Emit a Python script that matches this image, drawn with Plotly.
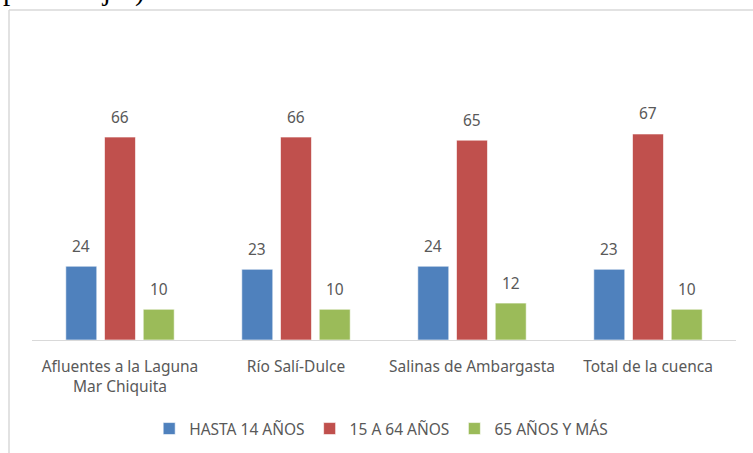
import plotly.graph_objects as go

categories = ["Afluentes a la Laguna<br>Mar Chiquita", "Río Salí-Dulce", "Salinas de Ambargasta", "Total de la cuenca"]
series_names = ["HASTA 14 AÑOS", "15 A 64 AÑOS", "65 AÑOS Y MÁS"]
hasta_14 = [24, 23, 24, 23]
de_15_a_64 = [66, 66, 65, 67]
mas_65 = [10, 10, 12, 10]
colors = ["#4F81BD", "#C0504D", "#9BBB59"]

W, H = 753, 453
L, R, T, B = 32, 17, 94, 113
pw, ph = W - L - R, H - T - B

def px_x(p):
    return (p - L) / pw

def px_y(p):
    return (H - B - p) / ph

FONT = "Noto Sans"
GRAY = "#595959"
FS = 15.5

fig = go.Figure()
all_series = [hasta_14, de_15_a_64, mas_65]
for name, vals, col in zip(series_names, all_series, colors):
    fig.add_trace(go.Bar(
        x=categories, y=vals, name=name,
        marker=dict(color=col, line=dict(color="rgba(255,255,255,0.6)", width=1)),
        hoverinfo="skip",
    ))

# data labels as annotations above each bar
slot = 38.7
for i, vals in enumerate(all_series):
    for c, v in zip(categories, vals):
        fig.add_annotation(
            x=c, y=v, text=str(v), showarrow=False,
            xshift=(i - 1) * slot, yshift=20.5, yanchor="middle",
            font=dict(family=FONT, size=FS, color=GRAY),
        )

# clipped caption text at top (cut off in the original too)
fig.add_annotation(
    xref="paper", yref="paper", x=px_x(2), y=px_y(8),
    xanchor="left", yanchor="bottom", text="porcentajes)", showarrow=False,
    borderpad=0, font=dict(family="Liberation Serif", size=29, color="black"),
)

# chart border (left and top)
fig.add_shape(type="line", xref="paper", yref="paper",
              x0=px_x(9), x1=px_x(9), y0=px_y(10), y1=px_y(H),
              line=dict(color="#d9d9d9", width=1.5))
fig.add_shape(type="line", xref="paper", yref="paper",
              x0=px_x(9), x1=px_x(W), y0=px_y(10), y1=px_y(10),
              line=dict(color="#d9d9d9", width=1.5))

fig.update_layout(
    width=W, height=H,
    margin=dict(l=L, r=R, t=T, b=B, autoexpand=False),
    paper_bgcolor="white", plot_bgcolor="white",
    barmode="group", bargap=0.34, bargroupgap=0.2,
    font=dict(family=FONT, size=FS, color=GRAY),
    showlegend=True,
    legend=dict(orientation="h", x=0.496, xanchor="center", y=px_y(429), yanchor="middle",
                font=dict(family=FONT, size=FS, color=GRAY), bgcolor="rgba(0,0,0,0)"),
    xaxis=dict(showline=True, linecolor="#d9d9d9", linewidth=1, ticks="",
               showgrid=False, tickfont=dict(family=FONT, size=FS, color=GRAY),
               ticklabelstandoff=12, fixedrange=True),
    yaxis=dict(range=[0, 80], visible=False, showgrid=False, fixedrange=True),
)

fig.write_html("out.html", config={"displayModeBar": False},
               post_script="document.body.style.margin='0';document.body.style.overflow='hidden';")
